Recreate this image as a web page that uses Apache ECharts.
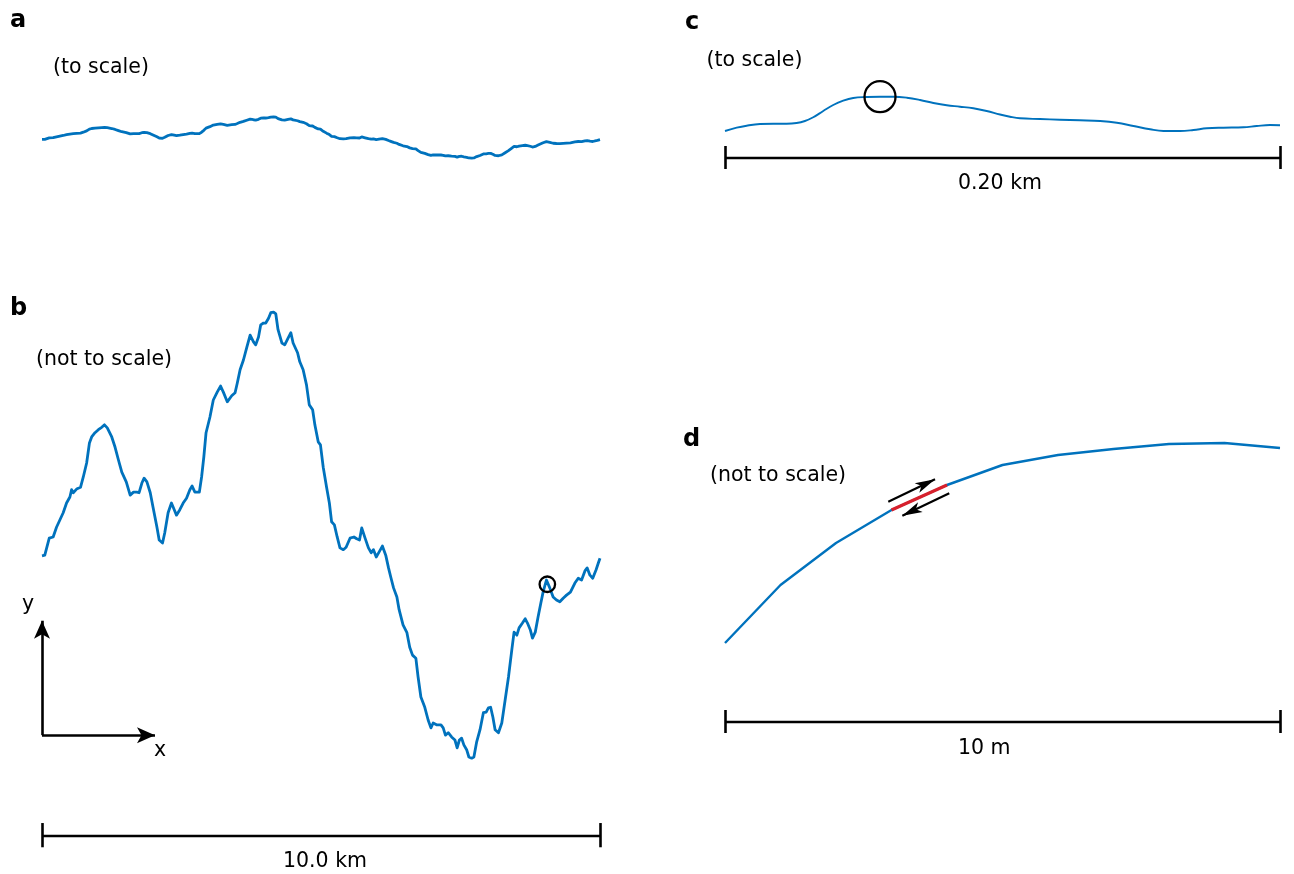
<!DOCTYPE html>
<html><head><meta charset="utf-8">
<script src="https://cdn.jsdelivr.net/npm/echarts@6/dist/echarts.min.js"></script>
<style>html,body{margin:0;padding:0;background:#fff;}#c{width:1294px;height:874px;}</style>
</head><body><div id="c"></div>
<script>
// ---- Panels a & b: the same 10 km profile (distance km, relative elevation m)
const profileKm = [
0.00,0.05,0.13,0.20,0.26,0.32,0.38,0.44,0.50,0.53,
0.56,0.62,0.69,0.74,0.80,0.85,0.89,0.95,1.01,1.07,
1.12,1.17,1.25,1.31,1.37,1.43,1.51,1.58,1.64,1.70,
1.74,1.79,1.83,1.88,1.94,1.99,2.06,2.10,2.16,2.20,
2.26,2.32,2.37,2.41,2.47,2.53,2.59,2.65,2.69,2.74,
2.82,2.86,2.90,2.94,3.01,3.07,3.14,3.20,3.25,3.32,
3.40,3.46,3.50,3.55,3.61,3.67,3.73,3.79,3.83,3.88,
3.92,3.97,4.01,4.06,4.10,4.15,4.19,4.23,4.30,4.35,
4.41,4.46,4.50,4.58,4.62,4.68,4.74,4.79,4.85,4.89,
4.95,4.99,5.04,5.10,5.15,5.19,5.24,5.29,5.34,5.40,
5.45,5.52,5.59,5.64,5.69,5.73,5.79,5.85,5.90,5.94,
5.99,6.04,6.10,6.16,6.21,6.25,6.30,6.36,6.40,6.47,
6.54,6.59,6.64,6.70,6.74,6.79,6.86,6.92,6.97,7.01,
7.07,7.15,7.19,7.23,7.28,7.34,7.40,7.44,7.48,7.52,
7.56,7.61,7.65,7.70,7.74,7.79,7.85,7.91,7.96,8.00,
8.04,8.08,8.12,8.18,8.24,8.30,8.36,8.42,8.46,8.51,
8.55,8.61,8.66,8.70,8.75,8.79,8.84,8.89,8.94,8.98,
9.04,9.10,9.16,9.22,9.28,9.34,9.40,9.47,9.55,9.61,
9.67,9.73,9.77,9.82,9.87,9.93,9.97,10.00];
const profileElev = [
337,338,366,368,384,396,408,424,434,446,
441,447,450,467,490,523,533,540,545,549,
553,548,533,516,495,475,459,437,442,442,
441,457,465,459,441,417,384,363,358,375,
408,424,413,404,413,424,432,446,452,442,
442,467,500,540,566,594,607,617,607,591,
601,606,622,644,660,681,701,690,685,698,
718,721,721,729,738,739,736,710,688,685,
696,705,688,672,657,644,619,586,578,553,
525,520,483,450,424,393,388,368,350,347,
351,366,368,365,363,383,366,350,342,347,
335,343,353,338,317,302,284,269,248,223,
210,186,173,168,137,104,87,66,53,61,
58,58,53,41,45,38,33,20,33,36,
25,17,5,3,5,30,50,78,79,86,
87,71,50,45,61,99,137,182,211,206,
218,226,233,226,215,201,211,236,259,277,
297,284,269,264,261,267,272,277,292,300,
297,312,317,305,300,314,325,333];
const bCircle = [9.056, 290];

// ---- Panel c: 0.20 km detail (distance m, relative elevation m)
const cDist = [0,4.2,7.8,12.6,17.4,22.2,25.8,28.8,31.8,35.4,39.0,42.6,46.2,51.1,55.9,60.7,65.5,70.3,75.1,79.9,
84.7,89.5,94.3,99.1,102.7,106.3,113.5,120.7,127.9,135.2,141.2,147.2,153.2,158.0,164.0,168.8,173.6,179.6,186.8,191.6,196.4,200];
const cElev = [0.36,1.55,2.27,2.88,2.99,2.99,3.24,3.96,5.30,7.57,9.73,11.28,12.25,12.61,12.72,12.72,12.36,11.53,10.45,9.62,
9.12,8.54,7.57,6.31,5.51,4.94,4.68,4.43,4.22,3.96,3.35,2.16,0.97,0.36,0.36,0.72,1.33,1.55,1.69,2.16,2.52,2.41];
const cCircle = [55.86, 12.72];

// ---- Panel d: 10 m detail, 1 m segments (vertical not to scale)
const dDist = [0,1,2,3,4,5,6,7,8,9,10];
const dElev = [0,0.58,1.00,1.33,1.58,1.78,1.88,1.94,1.99,2.00,1.95];
const slipIdx = [3, 4];

// ---- Annotations (in each panel's data units)
const bAxisOrigin = [0, 41];
const bAxisYEnd = [0, 229.8];
const bAxisXEnd = [2.025, 41];
const dArrowUp = [[2.942, 1.413], [3.784, 1.637]];
const dArrowDown = [[4.041, 1.497], [3.195, 1.273]];
const bScaleKm = [0, 10], bScaleY = -125.4, bTickY = [-104, -144];
const cScaleM = [0, 200], cScaleY = -9.37, cTickY = [-5.05, -13.33];
const dScaleM = [0, 10], dScaleY = -0.79, dTickY = [-0.67, -0.90];

const BLUE = '#0072BD', RED = '#D7202C', BLACK = '#000000';
const zip = (xs, ys) => xs.map((x, i) => [x, ys[i]]);

function axisPair(min, max){ return {type:'value', min:min, max:max, show:false, axisLabel:{show:false}, splitLine:{show:false}}; }
const grids = [
  {left:14.1, top:117, width:613.8, height:41.25},      // a
  {left:14.1, top:312, width:613.8, height:538.91},     // b
  {left:711.125, top:92.01, width:582.75, height:81.61},// c
  {left:697.25, top:433, width:610.5, height:310}       // d
].map(g => Object.assign({outerBoundsMode:'none', containLabel:false, show:false}, g));
const xAxes = [axisPair(-0.5,10.5), axisPair(-0.5,10.5), axisPair(-5,205), axisPair(-0.5,10.5)]
  .map((a,i)=>Object.assign(a,{gridIndex:i}));
const yAxes = [axisPair(0,739.2), axisPair(-150,739.2), axisPair(-15,14.41), axisPair(-1,2.1)]
  .map((a,i)=>Object.assign(a,{gridIndex:i}));

function lineSeries(gi, data, color, width, extra){
  return Object.assign({type:'line', xAxisIndex:gi, yAxisIndex:gi, data:data, symbol:'none', showSymbol:false,
    clip:false, silent:true, animation:false, lineStyle:{color:color, width:width, cap:'butt', join:'round', opacity:1}}, extra||{});
}
function scaleBar(gi, xs, y, ticks, w){
  return lineSeries(gi, [[xs[0], y], [xs[1], y]], BLACK, w, {
    markLine:{silent:true, animation:false, symbol:'none', label:{show:false}, emphasis:{disabled:true},
      lineStyle:{color:BLACK, width:w, type:'solid', opacity:1},
      data: xs.map(x => [{coord:[x, ticks[0]]}, {coord:[x, ticks[1]]}])}
  });
}
function arrows(gi, pairs, size, w){
  return lineSeries(gi, [pairs[0][0]], BLACK, w, {
    markLine:{silent:true, animation:false, symbol:['none','arrow'], symbolSize:size, label:{show:false},
      emphasis:{disabled:true}, lineStyle:{color:BLACK, width:w, type:'solid', opacity:1},
      data: pairs.map(p => [{coord:p[0]}, {coord:p[1]}])}
  });
}
function ring(gi, pt, size){
  return {type:'scatter', xAxisIndex:gi, yAxisIndex:gi, data:[pt], symbol:'circle', symbolSize:size, silent:true,
    animation:false, clip:false, itemStyle:{color:'rgba(0,0,0,0)', borderColor:BLACK, borderWidth:2.3, opacity:1}, z:5};
}

const series = [
  lineSeries(0, zip(profileKm, profileElev), BLUE, 2.8),
  lineSeries(1, zip(profileKm, profileElev), BLUE, 2.8),
  ring(1, bCircle, 15.5),
  scaleBar(1, bScaleKm, bScaleY, bTickY, 2.6),
  arrows(1, [[bAxisOrigin, bAxisYEnd], [bAxisOrigin, bAxisXEnd]], [12, 18], 2.6),
  lineSeries(2, zip(cDist, cElev), BLUE, 1.9, {smooth:0.4}),
  ring(2, cCircle, 31),
  scaleBar(2, cScaleM, cScaleY, cTickY, 2.6),
  lineSeries(3, zip(dDist, dElev), BLUE, 2.4),
  lineSeries(3, zip(dDist.slice(slipIdx[0], slipIdx[1]+1), dElev.slice(slipIdx[0], slipIdx[1]+1)), RED, 3.2, {z:4}),
  arrows(3, [dArrowUp, dArrowDown], [8, 20], 2.2),
  scaleBar(3, dScaleM, dScaleY, dTickY, 2.6)
];

const F = '"DejaVu Sans", "Liberation Sans", sans-serif';
function txt(t, x, y, font){
  return {type:'text', x:x, y:y, silent:true,
    style:{text:t, font:font, fill:BLACK, textAlign:'left', textVerticalAlign:'middle'}};
}
const PL = 'bold 24px ' + F, NT = '20.5px ' + F;
const texts = [
  txt('a', 10, 21, PL), txt('b', 10, 309, PL), txt('c', 685, 23, PL), txt('d', 683, 440, PL),
  txt('(to scale)', 53, 68, NT), txt('(not to scale)', 36, 360, NT),
  txt('(to scale)', 706.5, 60.7, NT), txt('(not to scale)', 710, 475.7, NT),
  txt('10.0 km', 283, 862, NT), txt('0.20 km', 958, 184, NT), txt('10 m', 958, 749, NT),
  txt('y', 22, 605, NT), txt('x', 154, 751, NT)
];

const chart = echarts.init(document.getElementById('c'), null, {renderer:'canvas', width:1294, height:874});
chart.setOption({
  animation:false,
  backgroundColor:'#ffffff',
  grid:grids, xAxis:xAxes, yAxis:yAxes, series:series,
  graphic:{elements:texts}
});
</script></body></html>
